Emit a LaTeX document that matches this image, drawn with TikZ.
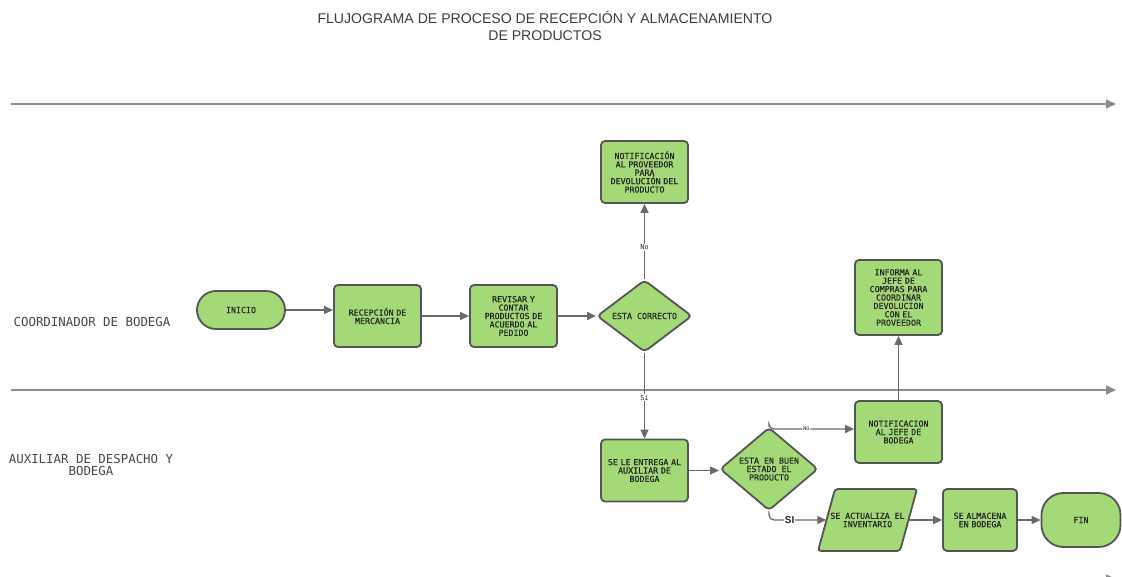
\documentclass[tikz,border=0pt]{standalone}
\usepackage{fontspec}
\setmainfont{Liberation Sans}
\newfontfamily\boxfont{DejaVu Sans Mono}[FakeBold=0.5]
\newfontfamily\lanefont{DejaVu Sans Mono}
\usetikzlibrary{shapes.geometric,arrows.meta}

\definecolor{boxfill}{HTML}{A3D977}
\definecolor{boxline}{HTML}{555555}
\definecolor{linkline}{HTML}{6A6A6A}
\definecolor{laneline}{HTML}{8C8C8C}
\definecolor{inktext}{HTML}{262626}

\tikzset{
  shapebase/.style={fill=boxfill, draw=boxline, line width=1.8pt, text=inktext,
    font=\boxfont\fontsize{8.3}{8.4}\selectfont, align=center, inner sep=1pt},
  procbox/.style={shapebase, rectangle, rounded corners=4pt,
    minimum width=87pt, minimum height=62pt, text width=84pt},
  termbox/.style={shapebase, rectangle, rounded corners=19pt,
    minimum width=88pt, minimum height=38pt},
  decbox/.style={shapebase, diamond, rounded corners=4pt, inner sep=0pt},
  iotext/.style={rectangle, text=inktext, font=\boxfont\fontsize{8.2}{8.4}\selectfont,
    align=center, inner sep=0pt, minimum width=82pt, minimum height=62pt},
  iobox/.style={fill=boxfill, draw=boxline, line width=1.8pt, rounded corners=3pt},
  link/.style={draw=linkline, line width=1.3pt, -{Triangle[length=9pt,width=8pt]}},
  lane/.style={draw=laneline, line width=1.4pt, -{Triangle[length=10pt,width=9pt]}},
  lanelabel/.style={text=inktext!85, font=\lanefont\fontsize{12.4}{12.2}\selectfont, align=center},
  choice/.style={fill=white, text=inktext, inner sep=1pt, font=\lanefont\fontsize{6.8}{7}\selectfont},
}

\begin{document}
\begin{tikzpicture}[x=1pt, y=-1pt]
  \useasboundingbox (0,0) rectangle (1122,576);

  % title
  \node[text=inktext!90, font=\fontsize{14.1}{17}\selectfont, align=center] (title) at (545,26)
    {FLUJOGRAMA DE PROCESO DE RECEPCIÓN Y ALMACENAMIENTO\\DE PRODUCTOS};

  % swimlane separators
  \coordinate (l1a) at (11,104);  \coordinate (l1b) at (1116,104);
  \coordinate (l2a) at (11,390);  \coordinate (l2b) at (1116,390);
  \coordinate (l3a) at (11,579);  \coordinate (l3b) at (1116,579);
  \draw[lane] (l1a) -- (l1b);
  \draw[lane] (l2a) -- (l2b);
  \draw[lane] (l3a) -- (l3b);

  % lane names
  \node[lanelabel] (lanecoord) at (92,322) {COORDINADOR DE BODEGA};
  \node[lanelabel] (laneaux) at (91,465) {AUXILIAR DE DESPACHO Y\\BODEGA};

  % coordinator lane
  \node[termbox] (inicio) at (241,310) {INICIO};
  \node[procbox] (recep) at (377.5,316) {RECEPCIÓN DE\\MERCANCIA};
  \node[procbox] (revisar) at (513.5,316) {REVISAR Y\\CONTAR\\PRODUCTOS DE\\ACUERDO AL\\PEDIDO};
  \node[decbox, minimum width=95pt, minimum height=72pt] (correcto) at (644.5,316) {ESTA CORRECTO};
  \node[procbox] (notprov) at (644.5,172) {NOTIFICACIÓN\\AL PROVEEDOR\\PARA\\DEVOLUCIÓN DEL\\PRODUCTO};
  \node[procbox, minimum height=75pt] (informa) at (898.5,297.5) {INFORMA AL\\JEFE DE\\COMPRAS PARA\\COORDINAR\\DEVOLUCION\\CON EL\\PROVEEDOR};

  % assistant lane
  \node[procbox] (entrega) at (644.5,470.5) {SE LE ENTREGA AL\\AUXILIAR DE\\BODEGA};
  \node[decbox, minimum width=98pt, minimum height=65pt] (buen) at (769,469) {ESTA EN BUEN\\ESTADO EL\\PRODUCTO};
  \node[procbox] (notjefe) at (898.5,432) {NOTIFICACION\\AL JEFE DE\\BODEGA};

  % data (parallelogram) step: slanted outline drawn round its text node
  \coordinate (pbl) at (818,551);
  \coordinate (ptl) at (835,489);
  \coordinate (ptr) at (917,489);
  \coordinate (pbr) at (900,551);
  \path[iobox] (pbl) -- (ptl) -- (ptr) -- (pbr) -- cycle;
  \node[iotext] (actual) at (867.5,520) {SE ACTUALIZA EL\\INVENTARIO};

  \node[procbox, minimum width=74pt, text width=70pt] (almacena) at (980,520) {SE ALMACENA\\EN BODEGA};
  \node[termbox, minimum width=79pt, minimum height=54pt, rounded corners=22pt] (fin) at (1081,520) {FIN};

  % flow
  \draw[link] (inicio.east) -- (inicio.east -| recep.west);
  \draw[link] (recep) -- (revisar);
  \draw[link] (revisar) -- (correcto);
  \draw[link] (correcto.north) -- node[choice, pos=0.42] (lblno) {No} (notprov.south);
  \draw[link] (correcto.south) -- node[choice, pos=0.52] (lblsi) {Sí} (entrega.north);
  \draw[link] (entrega.east) -- (entrega.east -| buen.west);
  \draw[link, rounded corners=5pt] (buen.north) |- node[choice, pos=0.72, font=\lanefont\fontsize{5}{6}\selectfont] (lblno2) {NO} ([yshift=3pt]notjefe.west);
  \draw[link] (notjefe) -- (informa);
  \draw[link, rounded corners=5pt] (buen.south) |- node[fill=white, text=inktext, inner sep=1pt, pos=0.68, font=\bfseries\fontsize{10}{11}\selectfont] (lblsi2) {SI} (actual.west);
  \draw[link] (actual) -- (almacena);
  \draw[link] (almacena) -- (fin);
\end{tikzpicture}
\end{document}
